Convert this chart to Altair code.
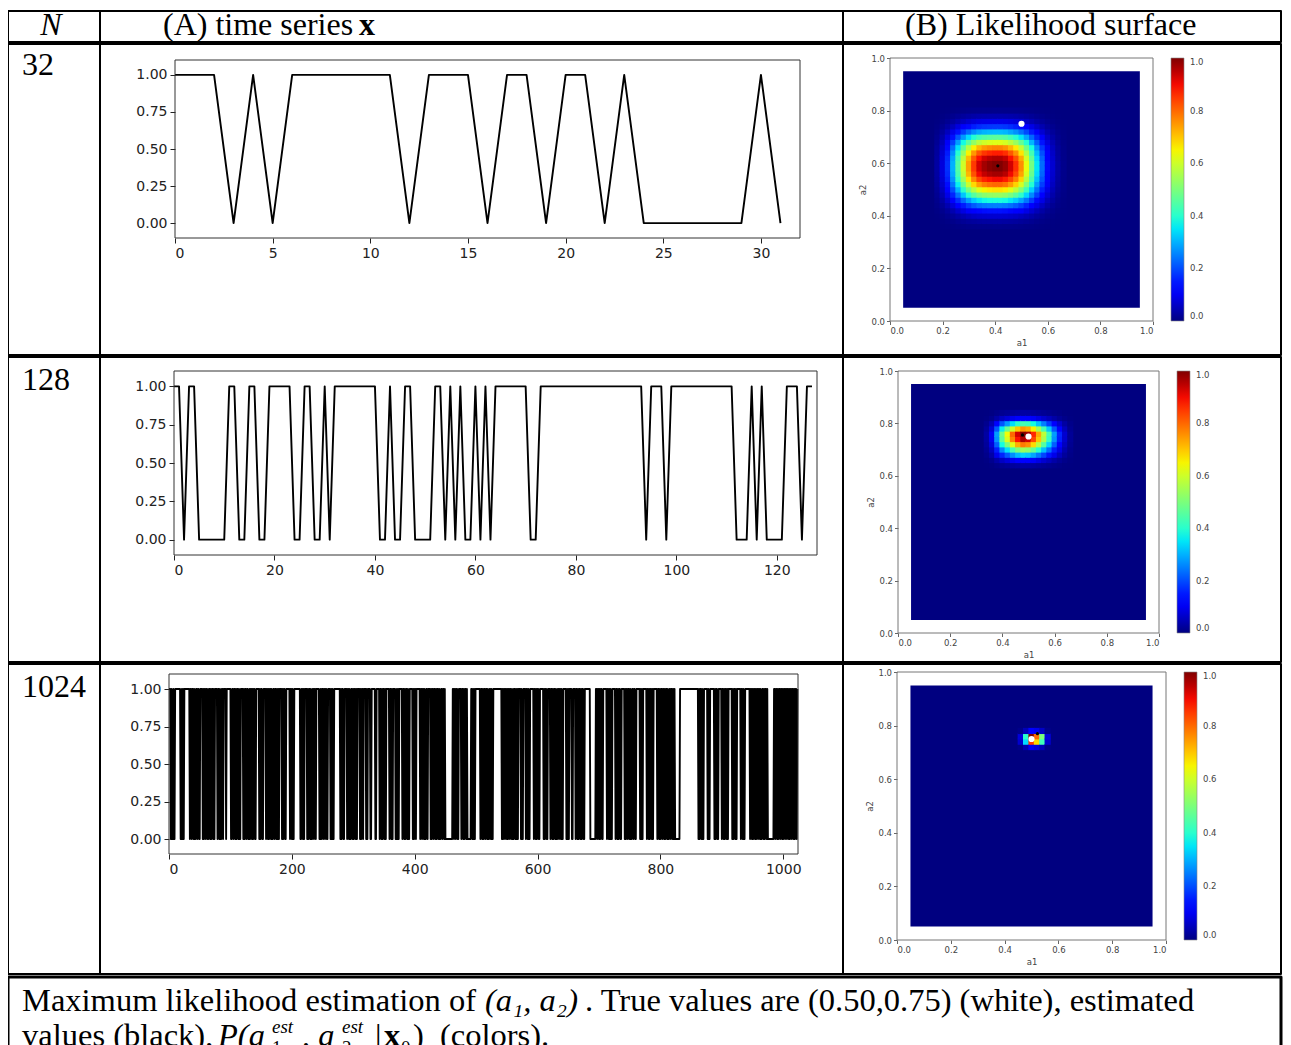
import altair as alt
import pandas as pd

# ------------------------------------------------------------------
# DATA
# ------------------------------------------------------------------
N_LABELS = ["32", "128", "1024"]
X_MAX = [32, 128, 1024]
X_TICKS = [[0, 5, 10, 15, 20, 25, 30],
           [0, 20, 40, 60, 80, 100, 120],
           [0, 200, 400, 600, 800, 1000]]
Y_TICKS_TS = [0.0, 0.25, 0.5, 0.75, 1.0]
Y_LIM_TS = [-0.1, 1.1]

# time series x (0/1 states), written as consecutive pieces
X32_PARTS = ["111", "0", "1", "0", "111111", "0", "111", "0", "11", "0",
             "11", "0", "1", "000000", "1", "0"]

X128_PARTS = ["1101100000", "0110011001", "1111001100", "1011111111",
              "1001001100", "0011010100", "1010111111", "1001111111",
              "1111111111", "1111011101", "1111111111", "1100010100",
              "00111011"]

X1024_PARTS = [
    "1110100100", "111111111", "001010", "111111111", "01101101001101100",
    "1111", "01011011001101011010", "1111", "0110100110", "1111", "0",
    "1111111", "0011011010110100", "1111", "010110110010110101100",
    "11111", "0101100", "1111", "0110101101001101101010", "1111",
    "0101100", "111111", "0110100", "1111111111", "0011010", "1111",
    "010110100110110", "11111", "00101101101100", "1111", "010100",
    "1111111111", "0101100", "1111", "01101001101011010", "1111",
    "010110", "1111", "010", "1111", "00", "111111", "00", "11111",
    "01101011010", "11111", "011010", "1111", "001010", "11111",
    "011010110100", "11111", "010110", "111111", "0110110100110", "1111",
    "0101101101", "0110100110", "1101",
    "000000000000", "1101101100", "1111", "0110101101", "000000",
    "1101010", "11111111",
    "0110101101", "1010011010", "0",
    "11111111111111",
    "0101101101", "0110110010", "1101010",
    "1111", "0100", "1111", "0110100", "111111", "0110101100", "111111",
    "0101100", "1111",
    "0110101101", "0011011010", "0",
    "11111", "01010", "1111", "00", "1111", "011010110101100",
    "111111111", "000000000", "110110101100", "111111", "011010100",
    "11111", "0110101100", "11111", "0101101101001101100", "111111",
    "01010", "111111", "01101011010", "111111",
    "0110101101", "1010110100", "110110101",
    "00000000",
    "111111111111111111111111111111",
    "010110100", "111111", "0100", "1111111", "0101100", "11111",
    "01101011010", "111111", "01011010", "111111", "0110100", "11111111",
    "0110101101", "0110110100", "110101101",
    "0000000000",
    "1101101011", "0110101101", "1011010110", "110101101",
]

# likelihood surfaces: profiles through the peak, at cell centres
S32_A1_AT = [0.18, 0.20, 0.22, 0.24, 0.26, 0.28, 0.30, 0.32, 0.34, 0.36, 0.38,
             0.40, 0.42, 0.44, 0.46, 0.48, 0.50, 0.52, 0.54, 0.56, 0.58, 0.60,
             0.62, 0.64, 0.66]
S32_A1 = [0.03, 0.08, 0.17, 0.30, 0.45, 0.60, 0.74, 0.85, 0.93, 0.97, 0.99,
          1.00, 1.00, 0.98, 0.93, 0.86, 0.76, 0.63, 0.49, 0.35, 0.23, 0.13,
          0.07, 0.03, 0.01]
S32_A2_AT = [0.36, 0.38, 0.40, 0.42, 0.44, 0.46, 0.48, 0.50, 0.52, 0.54, 0.56,
             0.58, 0.60, 0.62, 0.64, 0.66, 0.68, 0.70, 0.72, 0.74, 0.76, 0.78,
             0.80]
S32_A2 = [0.01, 0.03, 0.07, 0.14, 0.25, 0.38, 0.53, 0.67, 0.80, 0.90, 0.97,
          1.00, 1.00, 0.96, 0.88, 0.77, 0.62, 0.46, 0.31, 0.18, 0.09, 0.04,
          0.01]

S128_A1_AT = [0.34, 0.36, 0.38, 0.40, 0.42, 0.44, 0.46, 0.48, 0.50, 0.52, 0.54,
              0.56, 0.58, 0.60, 0.62, 0.64, 0.66]
S128_A1 = [0.03, 0.10, 0.28, 0.48, 0.64, 0.80, 0.93, 1.00, 0.97, 0.87, 0.73,
           0.58, 0.43, 0.28, 0.16, 0.07, 0.02]
S128_A2_AT = [0.64, 0.66, 0.68, 0.70, 0.72, 0.74, 0.76, 0.78, 0.80, 0.82, 0.84]
S128_A2 = [0.03, 0.12, 0.33, 0.54, 0.78, 0.96, 1.00, 0.75, 0.43, 0.12, 0.03]

S1024_A1_AT = [0.46, 0.48, 0.50, 0.52, 0.54, 0.56]
S1024_A1 = [0.08, 0.40, 1.00, 0.80, 0.50, 0.08]
S1024_A2_AT = [0.72, 0.74, 0.76, 0.78]
S1024_A2 = [0.10, 0.85, 1.00, 0.12]

GRID_LIM = [0.05, 0.95]   # extent of the likelihood image
GRID_STEP = 0.02          # cell size of the likelihood image
TRUE_A = [0.50, 0.75]     # white dot
EST_A = [[0.41, 0.59], [0.477, 0.756], [0.522, 0.770]]  # black dots
AX01_TICKS = [0.0, 0.2, 0.4, 0.6, 0.8, 1.0]

# jet colormap
JET_STOPS = [0.0, 0.11, 0.125, 0.34, 0.35, 0.375, 0.64, 0.65, 0.66, 0.89, 0.91, 1.0]
JET_COLORS = ["#000080", "#0000ff", "#0000ff", "#00dbff", "#00e6f7", "#15ffe2",
              "#eeff08", "#f7f500", "#ffec00", "#ff1300", "#e80000", "#800000"]

# texts
HEAD_N = "N"
HEAD_A = "(A) time series"
HEAD_A_BOLD = "x"
HEAD_B = "(B) Likelihood surface"
CAP1_A = "Maximum likelihood estimation of"
CAP1_B = "(a\u2081, a\u2082)"
CAP1_C = ". True values are (0.50,0.75) (white), estimated"
CAP2_A = "values (black),"
CAP2_B = "P(a"
CAP2_SUP = "est"
CAP2_SUB1 = "1"
CAP2_C = ", a"
CAP2_SUB2 = "2"
CAP2_D = "|"
CAP2_E = "x"
CAP2_SUB0 = "0"
CAP2_F = ")"
CAP2_G = "(colors)."

# ------------------------------------------------------------------
# LAYOUT
# ------------------------------------------------------------------
SERIF = "Liberation Serif"
SANS = "DejaVu Sans"
HEAD = 32
CAPF = 32.5
SMALL = 19
COL_W = [92, 743, 438]
ROW_H = [31, 311, 305, 310, 75]
TS_FRAME = [(75, 700, 194, 16), (74, 717, 198, 14), (69, 698, 190, 10)]
HM_FRAME = [(47, 310, 277, 14), (55, 316, 276, 14), (54, 323, 276, 8)]
CBAR = [(328, 14, 263), (334, 14, 262), (341, 8, 268)]
ROWLAB_POS = [(14, 31), (14, 33), (14, 33)]


def view(w=2):
    return alt.ViewBackground(stroke="black", strokeWidth=w, fill="white",
                              strokeJoin="round")


def txt(s, x, base, size=HEAD, style="normal", weight="normal", align="left"):
    # place by the alphabetic baseline, drawn with a 'top' baseline so that
    # the text bounds never reach above its cell
    top = base - round(0.79 * size)
    return alt.Chart(pd.DataFrame({"s": [s]})).mark_text(
        align=align, baseline="top", font=SERIF, fontSize=size,
        fontStyle=style, fontWeight=weight, color="black"
    ).encode(text="s:N", x=alt.value(x), y=alt.value(top))


def ts_cell(values, xmax, xticks, frame, H):
    left, right, bottom, top = frame
    df = pd.DataFrame({"t": list(range(len(values))), "x": values})
    xs = alt.Scale(domain=[0, xmax], range=[left, right], nice=False, zero=False)
    ys = alt.Scale(domain=Y_LIM_TS, range=[bottom, top], nice=False, zero=False)
    xa = alt.Axis(values=xticks, format="d", orient="bottom", offset=bottom - H,
                  domain=False, grid=False, tickSize=5, tickColor="#222",
                  labelFont=SANS, labelFontSize=14, labelColor="#222",
                  labelPadding=3, title=None)
    ya = alt.Axis(values=Y_TICKS_TS, format=".2f", orient="left", offset=-left,
                  domain=False, grid=False, tickSize=5, tickColor="#222",
                  labelFont=SANS, labelFontSize=14, labelColor="#222",
                  labelPadding=3, title=None)
    line = alt.Chart(df).mark_line(color="black", strokeWidth=1.9,
                                   strokeJoin="round").encode(
        x=alt.X("t:Q", scale=xs, axis=xa), y=alt.Y("x:Q", scale=ys, axis=ya))
    fdf = pd.DataFrame({"x0": [0], "x1": [xmax], "y0": [Y_LIM_TS[0]], "y1": [Y_LIM_TS[1]]})
    fr = alt.Chart(fdf).mark_rect(fillOpacity=0, stroke="#333", strokeWidth=1).encode(
        x=alt.X("x0:Q", scale=xs, axis=xa), x2="x1:Q",
        y=alt.Y("y0:Q", scale=ys, axis=ya), y2="y1:Q")
    return alt.layer(line, fr).properties(width=COL_W[1], height=H, view=view())


def hm_cell(a1_at, a1_v, a2_at, a2_v, est, frame, cbar, H):
    left, right, bottom, top = frame
    half = GRID_STEP / 2
    pad = 0.0015  # tiny overlap so neighbouring cells leave no seams
    rows = []
    for a1, p in zip(a1_at, a1_v):
        for a2, q in zip(a2_at, a2_v):
            rows.append({"x0": a1 - half - pad, "x1": a1 + half + pad,
                         "y0": a2 - half - pad, "y1": a2 + half + pad,
                         "v": round(p * q, 4)})
    cells = pd.DataFrame(rows)
    bgd = pd.DataFrame({"x0": [GRID_LIM[0]], "x1": [GRID_LIM[1]],
                        "y0": [GRID_LIM[0]], "y1": [GRID_LIM[1]], "v": [0.0]})
    xs = alt.Scale(domain=[0, 1], range=[left, right], nice=False, zero=False)
    ys = alt.Scale(domain=[0, 1], range=[bottom, top], nice=False, zero=False)
    cs = alt.Scale(domain=JET_STOPS, range=JET_COLORS, interpolate="rgb", clamp=True)
    leg = alt.Legend(type="gradient", orient="none", legendX=cbar[0],
                     legendY=cbar[1], direction="vertical",
                     gradientLength=cbar[2], gradientThickness=13,
                     values=AX01_TICKS, format=".1f", title=None,
                     labelFont=SANS, labelFontSize=8.5, labelColor="#444",
                     gradientStrokeColor="#888", gradientStrokeWidth=0.6,
                     labelOffset=6)
    common = dict(grid=False, domain=False, tickSize=3.5, tickColor="#666",
                  labelFont=SANS, labelFontSize=8.5, labelColor="#444",
                  labelPadding=2, titleFont=SANS, titleFontSize=8.5,
                  titleFontWeight="normal", titleColor="#444", titlePadding=3,
                  values=AX01_TICKS, format=".1f")
    xa = alt.Axis(orient="bottom", offset=bottom - H, title="a1", **common)
    ya = alt.Axis(orient="left", offset=-left, title="a2", **common)
    enc = dict(x=alt.X("x0:Q", scale=xs, axis=xa), x2="x1:Q",
               y=alt.Y("y0:Q", scale=ys, axis=ya), y2="y1:Q",
               color=alt.Color("v:Q", scale=cs, legend=leg))
    bg = alt.Chart(bgd).mark_rect().encode(**enc)
    cl = alt.Chart(cells).mark_rect().encode(**enc)
    fdf = pd.DataFrame({"x0": [0], "x1": [1], "y0": [0], "y1": [1]})
    fr = alt.Chart(fdf).mark_rect(fillOpacity=0, stroke="#777", strokeWidth=1).encode(
        x=alt.X("x0:Q", scale=xs, axis=xa), x2="x1:Q",
        y=alt.Y("y0:Q", scale=ys, axis=ya), y2="y1:Q")
    blk = alt.Chart(pd.DataFrame({"a1": [est[0]], "a2": [est[1]]})).mark_point(
        filled=True, color="black", size=10, opacity=1).encode(
        x=alt.X("a1:Q", scale=xs, axis=xa), y=alt.Y("a2:Q", scale=ys, axis=ya))
    wht = alt.Chart(pd.DataFrame({"a1": [TRUE_A[0]], "a2": [TRUE_A[1]]})).mark_point(
        filled=True, color="white", size=38, opacity=1).encode(
        x=alt.X("a1:Q", scale=xs, axis=xa), y=alt.Y("a2:Q", scale=ys, axis=ya))
    return alt.layer(bg, cl, fr, blk, wht).properties(
        width=COL_W[2], height=H, view=view())


def to_vals(parts):
    return [int(c) for c in "".join(parts)]


SERIES = [to_vals(X32_PARTS), to_vals(X128_PARTS), to_vals(X1024_PARTS)]
SURF = [(S32_A1_AT, S32_A1, S32_A2_AT, S32_A2),
        (S128_A1_AT, S128_A1, S128_A2_AT, S128_A2),
        (S1024_A1_AT, S1024_A1, S1024_A2_AT, S1024_A2)]

# header row
h1 = txt(HEAD_N, 43, 24, style="italic", align="center").properties(
    width=COL_W[0], height=ROW_H[0], view=view(2))
h2 = alt.layer(txt(HEAD_A, 63, 24), txt(HEAD_A_BOLD, 259, 24, weight="bold")).properties(
    width=COL_W[1], height=ROW_H[0], view=view(2))
h3 = txt(HEAD_B, 62, 24).properties(width=COL_W[2], height=ROW_H[0], view=view(2))
rows = [alt.hconcat(h1, h2, h3, spacing=0, bounds="flush")]

for i in range(3):
    H = ROW_H[i + 1]
    lab = txt(N_LABELS[i], ROWLAB_POS[i][0], ROWLAB_POS[i][1]).properties(
        width=COL_W[0], height=H, view=view())
    ts = ts_cell(SERIES[i], X_MAX[i], X_TICKS[i], TS_FRAME[i], H)
    hm = hm_cell(*SURF[i], EST_A[i], HM_FRAME[i], CBAR[i], H)
    rows.append(alt.hconcat(lab, ts, hm, spacing=0, bounds="flush")
                .resolve_scale(color="independent")
                .resolve_legend(color="independent"))

cap = alt.layer(
    txt(CAP1_A, 14, 34, size=CAPF),
    txt(CAP1_B, 477, 34, size=CAPF, style="italic"),
    txt(CAP1_C, 577, 34, size=CAPF),
    txt(CAP2_A, 14, 69, size=CAPF),
    txt(CAP2_B, 210, 69, size=CAPF, style="italic"),
    txt(CAP2_SUP, 264, 56, size=SMALL, style="italic"),
    txt(CAP2_SUB1, 264, 77, size=SMALL),
    txt(CAP2_C, 294, 69, size=CAPF, style="italic"),
    txt(CAP2_SUP, 334, 56, size=SMALL, style="italic"),
    txt(CAP2_SUB2, 334, 77, size=SMALL),
    txt(CAP2_D, 367, 69, size=CAPF),
    txt(CAP2_E, 376, 69, size=CAPF, weight="bold"),
    txt(CAP2_SUB0, 393, 77, size=SMALL),
    txt(CAP2_F, 405, 69, size=CAPF),
    txt(CAP2_G, 432, 69, size=CAPF),
).properties(width=sum(COL_W), height=ROW_H[4], view=view(3))
rows.append(cap)

chart = alt.vconcat(*rows, spacing=0).resolve_scale(
    color="independent").resolve_legend(
    color="independent").properties(
    padding={"top": 0, "left": -2, "right": 0, "bottom": 0})

chart.save("out.html", embed_options={"renderer": "svg", "actions": False})
